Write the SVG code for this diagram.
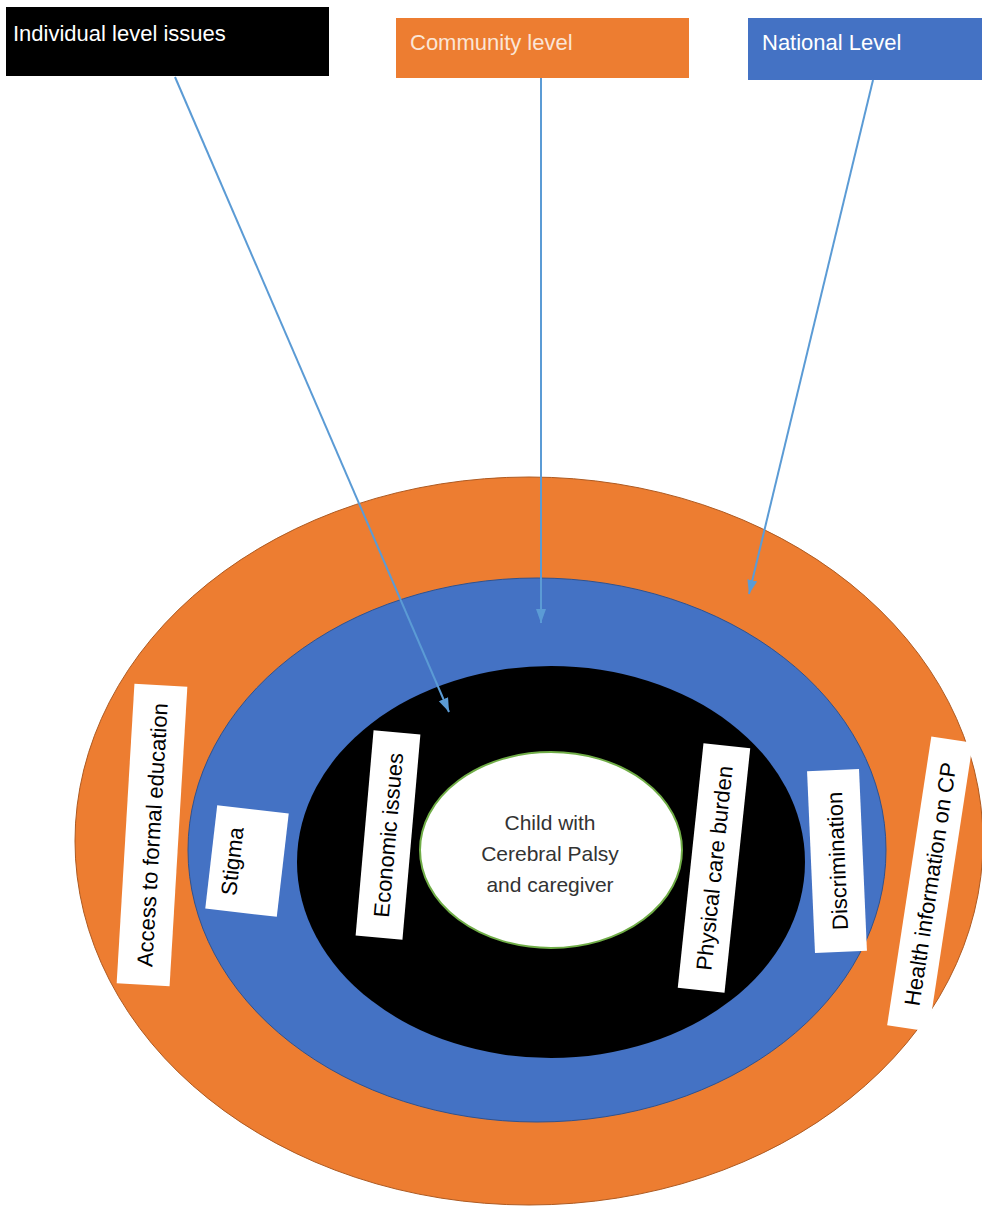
<svg xmlns="http://www.w3.org/2000/svg" width="982" height="1207" viewBox="0 0 982 1207">
<style>
  .lbl { fill: #ffffff; }
  .t { font-family: "Liberation Sans", Arial, sans-serif; font-size: 22px; }
  .lt { font-family: "Liberation Sans", Arial, sans-serif; font-size: 22px; fill: #000000; text-anchor: middle; }
  .ct { font-family: "Liberation Sans", Arial, sans-serif; font-size: 21px; fill: #333333; text-anchor: middle; }
  .conn { stroke: #5B9BD5; stroke-width: 2; fill: none; marker-end: url(#arr); }
</style>
<defs>
  <marker id="arr" markerUnits="userSpaceOnUse" markerWidth="15" markerHeight="12" refX="14" refY="6" orient="auto">
    <path d="M0,1 L14,6 L0,11 Z" fill="#5B9BD5"/>
  </marker>
</defs>
<rect x="0" y="0" width="982" height="1207" fill="#ffffff"/>

<g id="ring-national">
  <ellipse cx="529" cy="841" rx="454" ry="364" fill="#ED7D31" stroke="#AE5A21" stroke-width="1"/>
</g>
<g id="ring-community">
  <ellipse cx="537" cy="850" rx="349" ry="272" fill="#4472C4" stroke="#2F528F" stroke-width="1"/>
</g>
<g id="ring-individual">
  <ellipse cx="551" cy="862" rx="254" ry="196" fill="#000000"/>
</g>
<g id="center">
  <ellipse cx="551" cy="850" rx="131" ry="98" fill="#ffffff" stroke="#70AD47" stroke-width="2"/>
  <text class="ct" x="550" y="830">Child with</text>
  <text class="ct" x="550" y="861">Cerebral Palsy</text>
  <text class="ct" x="550" y="892">and caregiver</text>
</g>

<g id="box-individual">
  <rect x="6" y="7" width="323" height="69" fill="#000000"/>
  <text class="t" x="13" y="41" fill="#ffffff">Individual level issues</text>
</g>
<g id="box-community">
  <rect x="396" y="18" width="293" height="60" fill="#ED7D31"/>
  <text class="t" x="410" y="50" fill="#FBE5D6">Community level</text>
</g>
<g id="box-national">
  <rect x="748" y="18" width="234" height="62" fill="#4472C4"/>
  <text class="t" x="762" y="50" fill="#ffffff">National Level</text>
</g>

<g id="label-access" transform="translate(152,835) rotate(-86.6)">
  <rect class="lbl" x="-150" y="-26.5" width="300" height="53"/>
  <text class="lt" x="0" y="8">Access to formal education</text>
</g>
<g id="label-stigma" transform="translate(247,861) rotate(-83.4)">
  <rect class="lbl" x="-52" y="-36" width="104" height="72"/>
  <text class="lt" x="-2" y="-7">Stigma</text>
</g>
<g id="label-economic" transform="translate(388,835) rotate(-85)">
  <rect class="lbl" x="-103" y="-23.5" width="206" height="47"/>
  <text class="lt" x="0" y="8">Economic issues</text>
</g>
<g id="label-physical" transform="translate(714,868) rotate(-84)">
  <rect class="lbl" x="-123" y="-23.5" width="246" height="47"/>
  <text class="lt" x="0" y="8">Physical care burden</text>
</g>
<g id="label-discrimination" transform="translate(837,861) rotate(-92.5)">
  <rect class="lbl" x="-91" y="-26" width="182" height="52"/>
  <text class="lt" x="0" y="8">Discrimination</text>
</g>
<g id="label-health" transform="translate(930,884) rotate(-81.3)">
  <rect class="lbl" x="-146" y="-21" width="292" height="42"/>
  <text class="lt" x="0" y="8">Health information on CP</text>
</g>

<g id="connectors">
  <line class="conn" x1="175" y1="77" x2="449" y2="712"/>
  <line class="conn" x1="541" y1="78" x2="541" y2="623"/>
  <line class="conn" x1="873" y1="80" x2="749" y2="594"/>
</g>
</svg>
